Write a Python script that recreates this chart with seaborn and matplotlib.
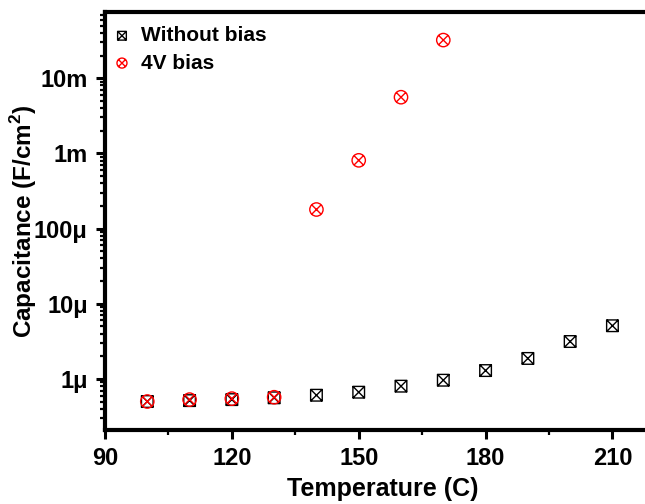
"""Capacitance vs temperature, with and without bias (log scale)."""

import matplotlib.pyplot as plt
import numpy as np
import pandas as pd
import seaborn as sns
from matplotlib.path import Path
from matplotlib.ticker import FixedLocator, LogLocator, MultipleLocator, NullFormatter

temp_nobias = [100, 110, 120, 130, 140, 150, 160, 170, 180, 190, 200, 210]
cap_nobias = [0.50e-6, 0.514e-6, 0.53e-6, 0.56e-6, 0.606e-6, 0.665e-6,
              0.80e-6, 0.96e-6, 1.29e-6, 1.87e-6, 3.14e-6, 5.09e-6]
temp_bias = [100, 110, 120, 130, 140, 150, 160, 170]
cap_bias = [0.50e-6, 0.53e-6, 0.546e-6, 0.57e-6, 1.79e-4, 8.07e-4, 5.58e-3, 3.21e-2]

y_ticks = [1e-6, 1e-5, 1e-4, 1e-3, 1e-2]
y_labels = ["1μ", "10μ", "100μ", "1m", "10m"]
x_ticks = [90, 120, 150, 180, 210]


def boxed_x():
    v = [(-1, -1), (1, -1), (1, 1), (-1, 1), (-1, -1),
         (-1, -1), (1, 1), (-1, 1), (1, -1)]
    c = [Path.MOVETO, Path.LINETO, Path.LINETO, Path.LINETO, Path.CLOSEPOLY,
         Path.MOVETO, Path.LINETO, Path.MOVETO, Path.LINETO]
    return Path(v, c)


def circled_x():
    d = 0.7071
    cross = Path([(-d, -d), (d, d), (-d, d), (d, -d)],
                 [Path.MOVETO, Path.LINETO, Path.MOVETO, Path.LINETO])
    return Path.make_compound_path(Path.unit_circle(), cross)


sns.set_style("ticks")
plt.rcParams["font.family"] = ["Liberation Sans", "DejaVu Sans"]
plt.rcParams["font.weight"] = "bold"
plt.rcParams["axes.labelweight"] = "bold"
plt.rcParams["mathtext.fontset"] = "custom"
plt.rcParams["mathtext.rm"] = "Liberation Sans:bold"
plt.rcParams["mathtext.bf"] = "Liberation Sans:bold"
for key in ["text.color", "axes.labelcolor", "xtick.color", "ytick.color"]:
    plt.rcParams[key] = "black"

df_a = pd.DataFrame({"temp": temp_nobias, "cap": cap_nobias})
df_b = pd.DataFrame({"temp": temp_bias, "cap": cap_bias})

fig = plt.figure(figsize=(6.45, 5.04), dpi=100)
ax = fig.add_axes([105 / 645, 74 / 504, 540 / 645, 418 / 504])

sns.scatterplot(data=df_a, x="temp", y="cap", ax=ax, marker=boxed_x(), s=70,
                facecolors="none", edgecolors="black", linewidth=1.0,
                label="Without bias", zorder=3)
sns.scatterplot(data=df_b, x="temp", y="cap", ax=ax, marker=circled_x(), s=92,
                facecolors="none", edgecolors="red", linewidth=1.0,
                label="4V bias", zorder=3)

ax.set_yscale("log")
ax.set_xlim(90, 217.7)
ax.set_ylim(10 ** -6.68, 10 ** -1.12)
ax.xaxis.set_major_locator(FixedLocator(x_ticks))
ax.xaxis.set_minor_locator(MultipleLocator(15))
ax.set_yticks(y_ticks)
ax.set_yticklabels(y_labels)
ax.yaxis.set_minor_locator(LogLocator(base=10, subs=np.arange(2, 10)))
ax.yaxis.set_minor_formatter(NullFormatter())

for side in ["left", "bottom", "top"]:
    ax.spines[side].set_linewidth(3.0)
    ax.spines[side].set_color("black")
ax.spines["right"].set_visible(False)
ax.tick_params(which="major", direction="out", length=6.5, width=2.2,
               labelsize=17, pad=6, colors="black")
ax.tick_params(which="minor", direction="out", length=3.5, width=1.6,
               colors="black")
ax.tick_params(top=False, right=False)

ax.set_xlabel("Temperature (C)", fontsize=18)
ax.set_ylabel("Capacitance (F/cm$^{\\mathbf{2}}$)", fontsize=17.5)
ax.xaxis.set_label_coords(0.514, -0.112)
ax.yaxis.set_label_coords(-0.122, 0.5)

ax.legend(loc="upper left", bbox_to_anchor=(0.016, 0.966), frameon=False,
          handlelength=0.8, handletextpad=0.5, borderaxespad=0, borderpad=0,
          labelspacing=0.4, markerscale=0.75,
          prop={"weight": "bold", "size": 15})

fig.savefig("out.png", dpi=100)
